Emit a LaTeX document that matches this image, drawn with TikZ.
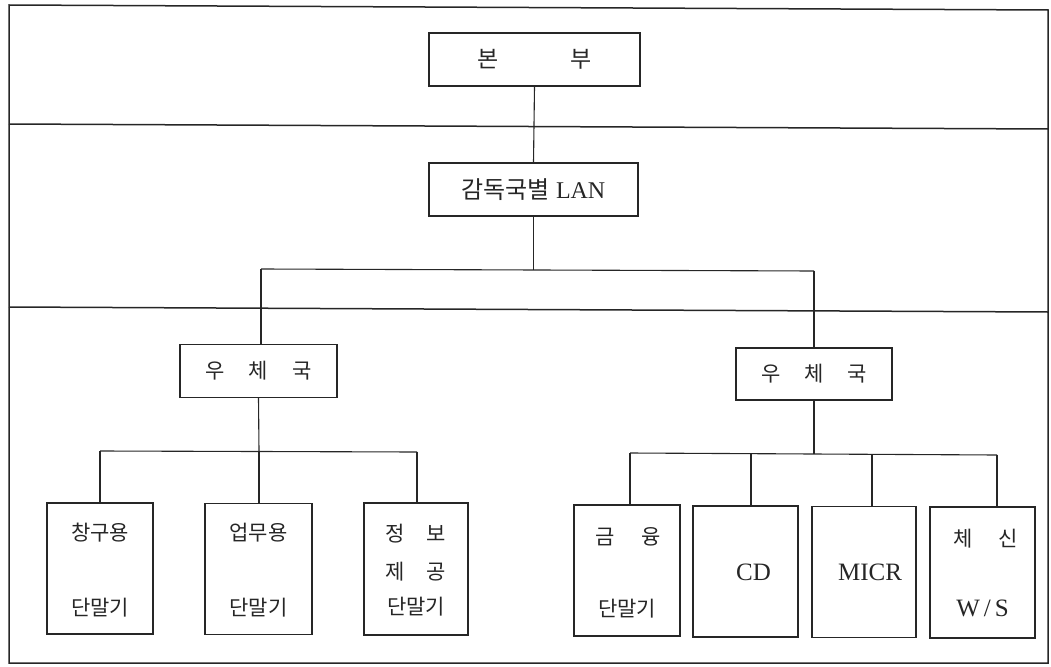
\documentclass[tikz,border=0pt]{standalone}
\usepackage{fontspec}
\setmainfont{Liberation Serif}
\newfontfamily\kr{Noto Sans CJK KR}
\begin{document}
\begin{tikzpicture}[x=1pt,y=-1pt,
  frameline/.style={line width=1.5pt,draw=black!85},
  boxnode/.style={draw=black!85,line width=1.4pt,inner sep=0pt,fill=white},
  conn/.style={draw=black!85,line width=1.1pt},
  lbl/.style={inner sep=0pt,font=\kr\fontsize{21pt}{24pt}\selectfont,text=black!85},
  lat/.style={inner sep=0pt,font=\fontsize{25pt}{28pt}\selectfont,text=black!85}]
\useasboundingbox (0,0) rectangle (1051,666);
% frame and bands
\draw[frameline] (9,5) -- (1048,10) -- (1048,663) -- (9,663) -- cycle;
\coordinate (l1a) at (9,124);  \coordinate (l1b) at (1048,129);
\coordinate (l2a) at (9,307);  \coordinate (l2b) at (1048,312);
\draw[frameline] (l1a) -- (l1b);
\draw[frameline] (l2a) -- (l2b);
% top boxes
\node[boxnode,minimum width=211pt,minimum height=53pt] (hq) at (534.5,59.5) {};
\node[lbl,font=\kr\fontsize{23pt}{26pt}\selectfont] (hqt) at (hq.center) {본\hspace{72pt}부};
\node[boxnode,minimum width=209pt,minimum height=53pt] (lan) at (533.5,189.5) {};
\node[inner sep=0pt,text=black!85,font=\fontsize{24pt}{27pt}\selectfont] (lant) at (lan.center) {{\kr 감독국별} LAN};
% post offices
\node[boxnode,minimum width=157pt,minimum height=53pt] (po1) at (258.5,371) {};
\node[lbl] (po1t) at (po1.center) {우\hspace{24pt}체\hspace{24pt}국};
\node[boxnode,minimum width=156pt,minimum height=52pt] (po2) at (814,374) {};
\node[lbl] (po2t) at (po2.center) {우\hspace{24pt}체\hspace{24pt}국};
% terminals left
\node[boxnode,minimum width=106pt,minimum height=131pt] (t1) at (100,568.5) {};
\node[boxnode,minimum width=107pt,minimum height=131pt] (t2) at (258.5,569) {};
\node[boxnode,minimum width=104pt,minimum height=132pt] (t3) at (416,569) {};
% terminals right
\node[boxnode,minimum width=106pt,minimum height=131pt] (f1) at (627,570.5) {};
\node[boxnode,minimum width=105pt,minimum height=131pt] (f2) at (745.5,571.5) {};
\node[boxnode,minimum width=104pt,minimum height=131pt] (f3) at (864,572) {};
\node[boxnode,minimum width=105pt,minimum height=131pt] (f4) at (982.5,572.5) {};
% labels (yshift is in canvas units: positive = up)
\node[lbl] (t1a) at ([yshift=36pt]t1.center) {창구용};
\node[lbl] (t1b) at ([yshift=-39pt]t1.center) {단말기};
\node[lbl] (t2a) at ([yshift=36pt]t2.center) {업무용};
\node[lbl] (t2b) at ([yshift=-39pt]t2.center) {단말기};
\node[lbl] (t3a) at ([yshift=35pt]t3.center) {정\hspace{22pt}보};
\node[lbl] (t3b) at ([yshift=-3pt]t3.center) {제\hspace{22pt}공};
\node[lbl] (t3c) at ([yshift=-38pt]t3.center) {단말기};
\node[lbl] (f1a) at ([xshift=1pt,yshift=34pt]f1.center) {금\hspace{27pt}융};
\node[lbl] (f1b) at ([yshift=-38pt]f1.center) {단말기};
\node[lat] (f2t) at ([xshift=8pt,yshift=-1pt]f2.center) {CD};
\node[lat] (f3t) at ([xshift=6pt,yshift=0pt]f3.center) {MICR};
\node[lbl] (f4a) at ([xshift=3pt,yshift=34pt]f4.center) {체\hspace{25pt}신};
\node[lat] (f4b) at ([yshift=-36pt]f4.center) {W\kern4pt/\kern4pt S};
% connectors
\draw[conn] (hq.south) -- (lan.north);
\coordinate (busA) at (lan.south |- 0,270);
\coordinate (busL) at (261,269);
\coordinate (busR) at (814,271);
\draw[conn] (lan.south) -- (busA);
\draw[conn] (busL) -- (busR);
\draw[conn] (busL) -- (busL |- po1.north);
\draw[conn] (busR) -- (busR |- po2.north);
% left group
\coordinate (lb1) at (100,451);
\coordinate (lb2) at (259,451);
\coordinate (lb3) at (417,452);
\draw[conn] (po1.south) -- (lb2);
\draw[conn] (lb1) -- (lb3);
\draw[conn] (lb1) -- (lb1 |- t1.north);
\draw[conn] (lb2) -- (lb2 |- t2.north);
\draw[conn] (lb3) -- (lb3 |- t3.north);
% right group
\coordinate (rb1) at (630,453);
\coordinate (rb2) at (751,454);
\coordinate (rb3) at (872,454);
\coordinate (rb4) at (997,455);
\draw[conn] (po2.south) -- (po2.south |- rb2);
\draw[conn] (rb1) -- (rb4);
\draw[conn] (rb1) -- (rb1 |- f1.north);
\draw[conn] (rb2) -- (rb2 |- f2.north);
\draw[conn] (rb3) -- (rb3 |- f3.north);
\draw[conn] (rb4) -- (rb4 |- f4.north);
\end{tikzpicture}
\end{document}
